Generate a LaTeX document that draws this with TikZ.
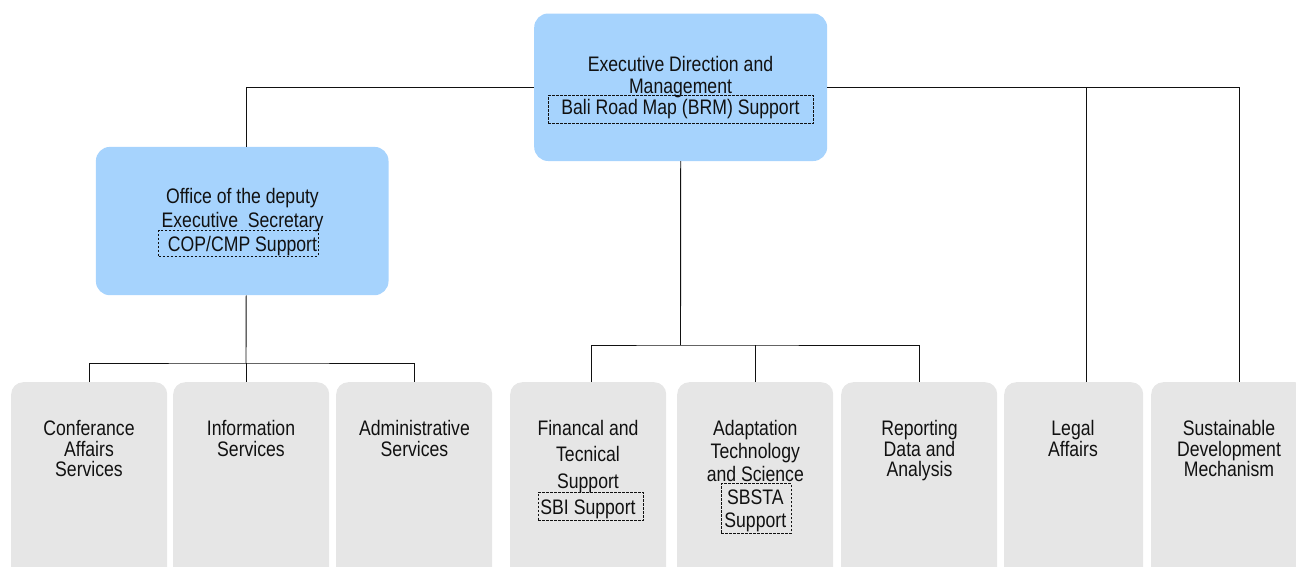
\documentclass[tikz,border=0pt]{standalone}
\usepackage{fontspec}
\setmainfont{Liberation Sans}[FakeStretch=0.84]
\definecolor{headblue}{RGB}{166,211,253}
\definecolor{unitgrey}{RGB}{230,230,230}
\definecolor{ink}{RGB}{17,17,17}

\begin{document}
\begin{tikzpicture}[x=1pt,y=-1pt,
  headbox/.style={fill=headblue,draw=none,rounded corners=14pt,inner sep=0,anchor=north west},
  unitbox/.style={fill=unitgrey,draw=none,rounded corners=12pt,inner sep=0,anchor=north west,
                  minimum width=156pt,minimum height=230pt},
  txt/.style={anchor=north,inner sep=0,align=center,text=ink,font=\fontsize{21}{#1}\selectfont},
  txt/.default=20.3,
  supp/.style={draw=ink,dash pattern=on 2.5pt off 1.5pt,line width=0.7pt,inner sep=0,anchor=north west},
  wire/.style={draw=ink,line width=0.9pt}]
\useasboundingbox (0,0) rectangle (1296,566);
\clip (0,0) rectangle (1296,566);

% management boxes
\node[headbox,minimum width=293pt,minimum height=147.5pt] (edm) at (534,13.3) {};
\node[headbox,minimum width=292.6pt,minimum height=148.3pt] (dep) at (95.7,146.7) {};

% units
\node[unitbox] (conf) at (11,382) {};
\node[unitbox] (info) at (173,382) {};
\node[unitbox] (adm)  at (336,382) {};
\node[unitbox] (fin)  at (510,382) {};
\node[unitbox] (ada)  at (677,382) {};
\node[unitbox] (rep)  at (841,382) {};
\node[unitbox,minimum width=139pt] (leg) at (1004,382) {};
\node[unitbox] (sdm)  at (1151,382) {};

% support frames
\node[supp,minimum width=265pt,minimum height=28.3pt] (brm) at (548,95) {};
\node[supp,minimum width=159.4pt,minimum height=25.7pt] (cop) at (158.3,230) {};
\node[supp,minimum width=105.6pt,minimum height=27.7pt] (sbi) at (537.7,492.3) {};
\node[supp,minimum width=69.7pt,minimum height=50pt] (sbsta) at (721,483.3) {};

% texts
\node[txt=21.5] (edm-t) at (680.5,56.2) {Executive Direction and\\Management\\Bali Road Map (BRM) Support};
\node[txt=24] (dep-t) at (242.5,188.3) {Office of the deputy\\Executive\ \ Secretary\\COP/CMP Support};
\node[txt] (conf-t) at (89,420.5) {Conferance\\Affairs\\Services};
\node[txt] (info-t) at (251,420.5) {Information\\Services};
\node[txt] (adm-t) at (414.5,420.5) {Administrative\\Services};
\node[txt=26.3] (fin-t) at (588,420.2) {Financal and\\Tecnical\\Support\\SBI Support};
\node[txt=22.9] (ada-t) at (755.3,420.2) {Adaptation\\Technology\\and Science\\SBSTA\\Support};
\node[txt] (rep-t) at (919.5,420.5) {Reporting\\Data and\\Analysis};
\node[txt] (leg-t) at (1073,420.5) {Legal\\Affairs};
\node[txt] (sdm-t) at (1229,420.5) {Sustainable\\Development\\Mechanism};

% junctions
\coordinate (jm) at (680.5,345);
\coordinate (jl) at (246,363);

% top bus
\draw[wire] ([xshift=4pt]dep.north) |- (edm.west);
\draw[wire] (edm.east) -| ([xshift=10pt]sdm.north);
\draw[wire] ([xshift=12.5pt]leg.north) -- ([xshift=12.5pt]leg.north |- edm.east);

% programme branch
\draw[wire] (edm.south) -- (jm);
\draw[wire] ([xshift=3pt]fin.north) |- (jm) -| (rep.north);
\draw[wire] (ada.north) -- (ada.north |- jm);

% services branch
\draw[wire] ([xshift=4pt]dep.south) -- (jl);
\draw[wire] (conf.north) |- (jl) -| (adm.north);
\draw[wire] (jl) -- (jl |- info.north);
\end{tikzpicture}
\end{document}
